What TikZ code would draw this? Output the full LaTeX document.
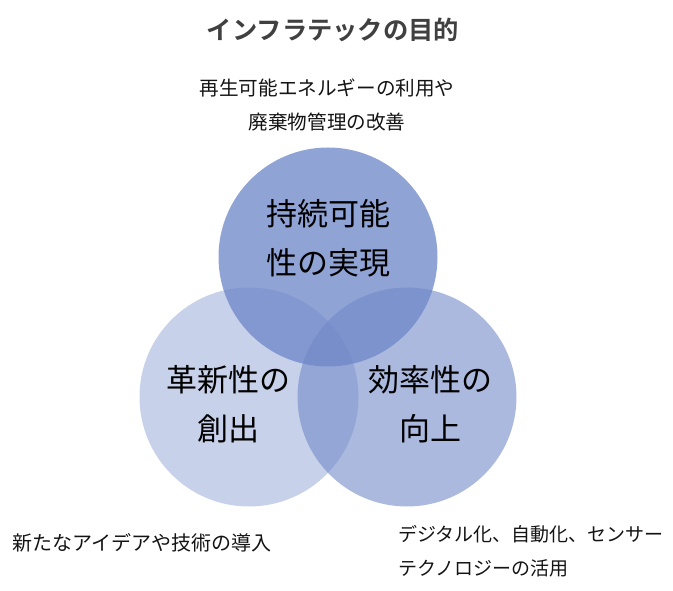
\documentclass[tikz,border=0pt]{standalone}
\usepackage{fontspec}
\setmainfont{Noto Sans CJK JP}[BoldFont={Noto Sans CJK JP Bold}]
\definecolor{vbase}{RGB}{110,135,200}
\definecolor{titlegray}{RGB}{64,64,64}
\definecolor{labelgray}{RGB}{20,20,20}
\begin{document}
\begin{tikzpicture}[x=1pt,y=-1pt,
  venn/.style={circle, minimum size=219pt, inner sep=0pt, fill=vbase, draw=none},
  circtext/.style={align=center, font=\fontsize{31}{49}\selectfont, text=black, inner sep=0pt},
  lbl/.style={align=center, font=\fontsize{19.6}{34}\selectfont, text=labelgray, inner sep=0pt}]
\useasboundingbox (0,0) rectangle (673,591);
\node[venn, fill opacity=0.38] (cl) at (249,397) {};
\node[venn, fill opacity=0.58] (cr) at (407,397) {};
\node[venn, fill opacity=0.77] (ct) at (328,257) {};
\node[circtext] (tt) at (328,238) {持続可能\\性の実現};
\node[circtext] (tl) at (228,404) {革新性の\\創出};
\node[circtext] (tr) at (430,404) {効率性の\\向上};
\node[font=\fontsize{25.3}{30}\selectfont\bfseries, text=titlegray, inner sep=0pt] (title) at (333,30) {インフラテックの目的};
\node[lbl] (lt) at (327,105) {再生可能エネルギーの利用や\\廃棄物管理の改善};
\node[lbl, anchor=west, font=\fontsize{20}{34}\selectfont] (lb) at (12,543) {新たなアイデアや技術の導入};
\node[lbl, align=left, anchor=north west, font=\fontsize{19}{34}\selectfont] (rb) at (398,525) {デジタル化、自動化、センサー\\テクノロジーの活用};
\end{tikzpicture}
\end{document}
